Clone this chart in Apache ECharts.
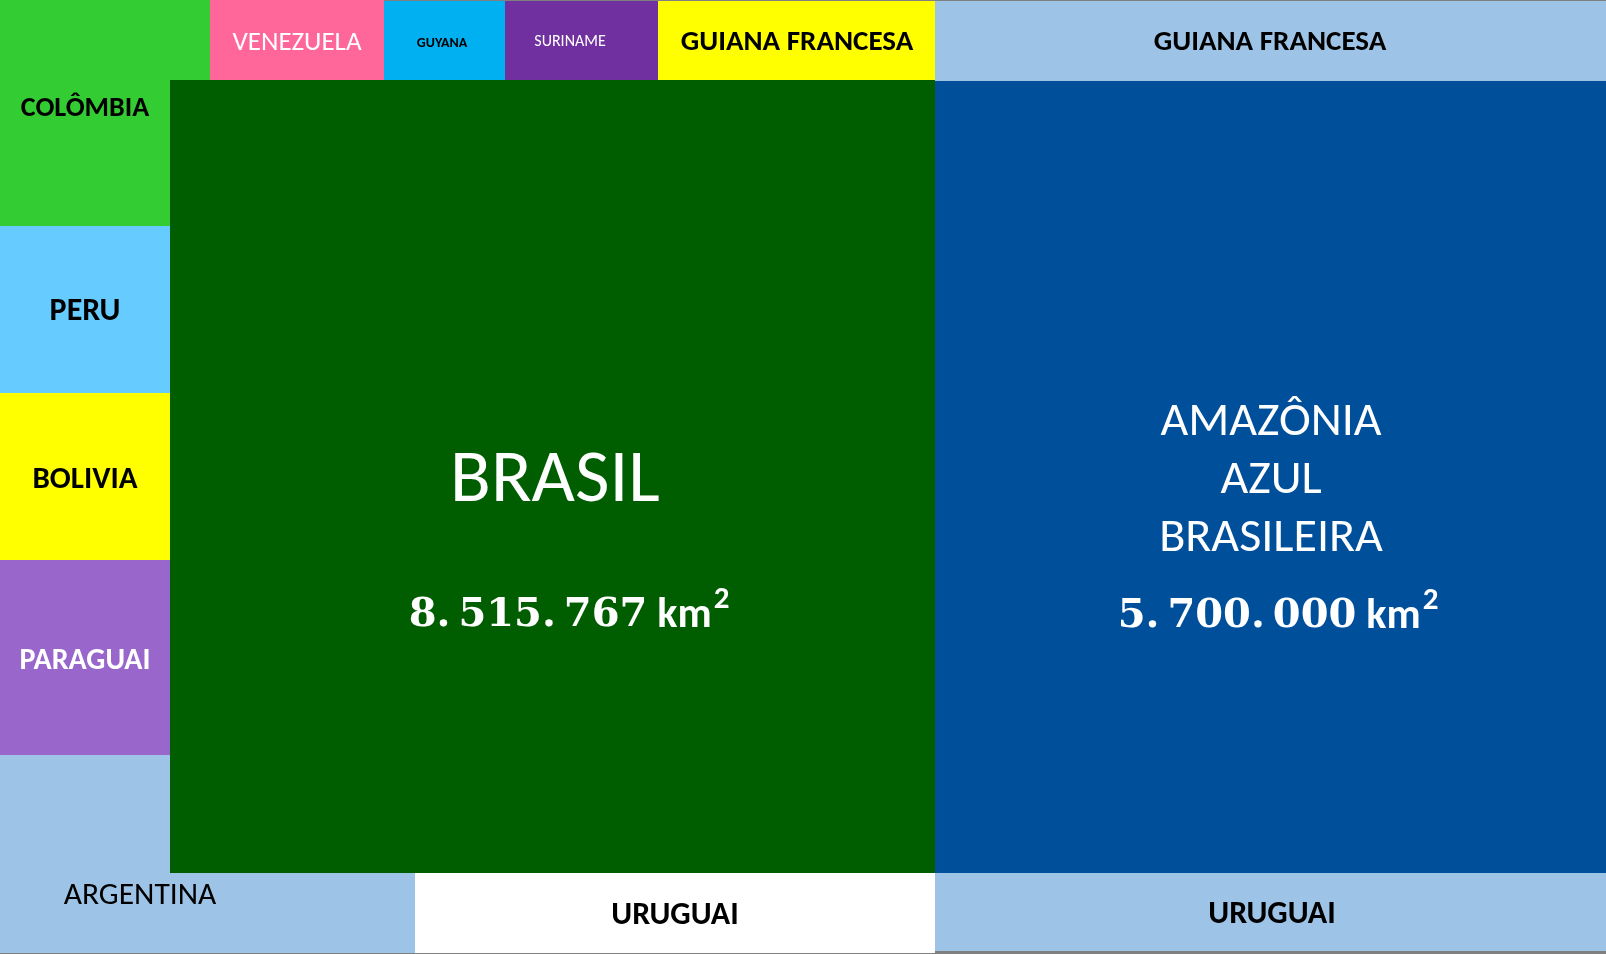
<!DOCTYPE html>
<html>
<head>
<meta charset="utf-8">
<script src="https://cdn.jsdelivr.net/npm/echarts@6/dist/echarts.min.js"></script>
<style>
html,body{margin:0;padding:0;background:#fff;}
#chart{width:1606px;height:954px;}
</style>
</head>
<body>
<div id="chart"></div>
<script>
// ---- data (in the reference's layout units: 1606 x 954 board) ----
const regions = ['COLÔMBIA','COLÔMBIA','VENEZUELA','GUYANA','SURINAME','GUIANA FRANCESA','GUIANA FRANCESA',
  'BRASIL','AMAZÔNIA AZUL BRASILEIRA','PERU','BOLIVIA','PARAGUAI','ARGENTINA','ARGENTINA','URUGUAI','URUGUAI'];
const xStart = [0,   0, 210, 384, 505, 658,  935, 170,  935,   0,   0,   0,   0,   0, 415,  935];
const xEnd   = [210, 170, 384, 505, 658, 935, 1606, 935, 1606, 170, 170, 170, 170, 415, 935, 1606];
const yStart = [0,  80,   0,   1,   1,   1,    1,  80,   81, 226, 393, 560, 755, 873, 873,  873];
const yEnd   = [80, 226, 80,  80,  80,  80,   81, 873,  873, 393, 560, 755, 873, 953, 953,  951];
const areaBrasil = '8.\u2009515.\u2009767';
const areaAmazonia = '5.\u2009700.\u2009000';
const areaUnit = 'km';

// ---- styles ----
const palette = ['#33CC33','#33CC33','#FF6699','#00B0F0','#7030A0','#FFFF00','#9DC3E6',
  '#005E00','#004F9B','#66CCFF','#FFFF00','#9966CC','#9DC3E6','#9DC3E6','#FFFFFF','#9DC3E6'];
const FONT = 'Carlito, Lato, sans-serif';
// label placements per rectangle index
const labelSpec = {
  1:  {x: 85,  y: 108.5, size: 28, weight: 'bold',   color: '#000'},
  2:  {x: 297, y: 43,  size: 27, weight: 'normal', color: '#fff'},
  3:  {x: 442, y: 43,  size: 14, weight: 'bold',   color: '#000'},
  4:  {x: 570, y: 42,  size: 16, weight: 'normal', color: '#fff'},
  5:  {x: 797, y: 43,  size: 29, weight: 'bold',   color: '#000'},
  6:  {x: 1270,y: 43,  size: 29, weight: 'bold',   color: '#000'},
  7:  {x: 555, y: 482.5, size: 75, weight: 'normal', color: '#fff'},
  8:  {x: 1271,y: 481, size: 48, weight: 'normal', color: '#fff', lines: ['AMAZÔNIA','AZUL','BRASILEIRA'], lh: 58},
  9:  {x: 85,  y: 312, size: 32, weight: 'bold',   color: '#000'},
  10: {x: 85,  y: 480, size: 31, weight: 'bold',   color: '#000'},
  11: {x: 85,  y: 661.5, size: 30, weight: 'bold',   color: '#fff'},
  13: {x: 140, y: 896, size: 31.5, weight: 'normal', color: '#000'},
  14: {x: 675, y: 916, size: 32, weight: 'bold',   color: '#000'},
  15: {x: 1272,y: 915, size: 32, weight: 'bold',   color: '#000'}
};
const areaSpec = {
  7: {x: 569,  y: 616, text: areaBrasil},
  8: {x: 1278, y: 617, text: areaAmazonia}
};

const seriesData = regions.map((n, i) => ({name: n, value: [xStart[i], xEnd[i], yStart[i], yEnd[i], i]}));

const chart = echarts.init(document.getElementById('chart'), null, {renderer: 'canvas'});
chart.setOption({
  backgroundColor: '#808080',
  animation: false,
  grid: {left: 0, right: 0, top: 0, bottom: 0},
  xAxis: {type: 'value', min: 0, max: 1606, show: false},
  yAxis: {type: 'value', min: 0, max: 954, inverse: true, show: false},
  series: [{
    type: 'custom',
    data: seriesData,
    renderItem: function (params, api) {
      const i = api.value(4);
      const p0 = api.coord([api.value(0), api.value(2)]);
      const p1 = api.coord([api.value(1), api.value(3)]);
      const children = [{
        type: 'rect',
        shape: {x: p0[0], y: p0[1], width: p1[0] - p0[0], height: p1[1] - p0[1]},
        style: {fill: palette[i]}
      }];
      const spec = labelSpec[i];
      if (spec) {
        const lines = spec.lines || [regions[i]];
        const lh = spec.lh || 0;
        lines.forEach((t, k) => {
          const c = api.coord([spec.x, spec.y + (k - (lines.length - 1) / 2) * lh]);
          children.push({
            type: 'text', x: c[0], y: c[1],
            style: {text: t, fill: spec.color, font: spec.weight + ' ' + spec.size + 'px ' + FONT,
              align: 'center', verticalAlign: 'middle'}
          });
        });
      }
      const a = areaSpec[i];
      if (a) {
        const c = api.coord([a.x, a.y]);
        children.push({
          type: 'text', x: c[0], y: c[1],
          style: {
            text: '{n|' + a.text + '}{u|' + areaUnit + '}{s|2}',
            align: 'center', verticalAlign: 'middle',
            rich: {
              n: {fill: '#fff', fontFamily: '"DejaVu Serif", serif', fontWeight: 'bold', fontSize: 40, lineHeight: 62},
              u: {fill: '#fff', fontFamily: FONT, fontWeight: 'bold', fontSize: 42, lineHeight: 62, padding: [0, 2, 0, 10]},
              s: {fill: '#fff', fontFamily: FONT, fontWeight: 'bold', fontSize: 31, lineHeight: 32, verticalAlign: 'top'}
            }
          }
        });
      }
      return {type: 'group', children: children};
    }
  }]
});
</script>
</body>
</html>
